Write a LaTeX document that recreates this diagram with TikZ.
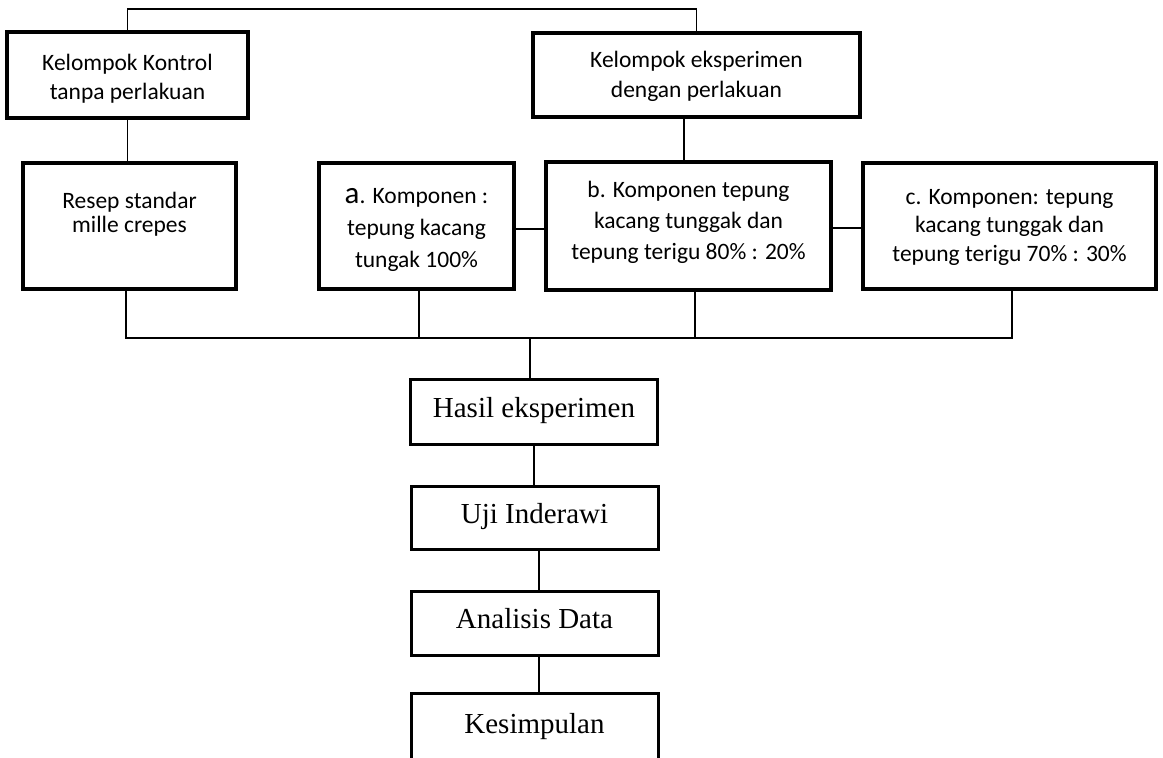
\documentclass[tikz,border=0pt]{standalone}
\usepackage{fontspec}
\setmainfont{Liberation Serif}
\newfontfamily\calib{Carlito}
\tikzset{
  boxtop/.style={draw, line width=3.2pt, inner sep=0pt, outer sep=0pt, align=center,
    font=\calib\fontsize{23.5}{29}\selectfont},
  boxlow/.style={draw, line width=3pt, inner sep=0pt, outer sep=0pt,
    font=\fontsize{29}{34}\selectfont, minimum width=247pt},
  conn/.style={line width=1.4pt}
}
\begin{document}
\begin{tikzpicture}[x=1pt,y=-1pt]
\fill[white] (0,0) rectangle (1163,758);
\useasboundingbox (0,0) rectangle (1163,758);
% top row
\node[boxtop, minimum width=241pt, minimum height=86pt, text height=20pt, text depth=30pt] (K) at (127.5,75)
  {\fontsize{23.5}{29}\selectfont\begin{tabular}[t]{@{}c@{}}Kelompok Kontrol\\tanpa perlakuan\end{tabular}};
\node[boxtop, minimum width=327pt, minimum height=84pt, text height=20pt, text depth=36pt] (E) at (696.5,75)
  {\fontsize{23.5}{30}\selectfont\begin{tabular}[t]{@{}c@{}}Kelompok eksperimen\\dengan perlakuan\end{tabular}};
% middle row
\node[boxtop, minimum width=213pt, minimum height=126pt, text height=20pt, text depth=56pt] (R) at (129.5,226)
  {\fontsize{23.5}{24}\selectfont\begin{tabular}[t]{@{}c@{}}Resep standar\\mille crepes\end{tabular}};
\node[boxtop, minimum width=195pt, minimum height=126pt, text height=20pt, text depth=66pt] (A) at (416.5,226)
  {\fontsize{23.5}{32}\selectfont\begin{tabular}[t]{@{}c@{}}{\fontsize{31}{32}\selectfont a}. Komponen :\\tepung kacang\\tungak 100\%\end{tabular}};
\node[boxtop, minimum width=285pt, minimum height=128pt, text height=20pt, text depth=78pt] (B) at (688.5,226)
  {\fontsize{23.5}{31}\selectfont\begin{tabular}[t]{@{}c@{}}b. Komponen tepung\\kacang tunggak dan\\tepung terigu 80\% : 20\%\end{tabular}};
\node[boxtop, minimum width=293pt, minimum height=126pt, text height=20pt, text depth=64pt] (C) at (1009.5,226)
  {\fontsize{23.5}{28.5}\selectfont\begin{tabular}[t]{@{}c@{}}c. Komponen: tepung\\kacang tunggak dan\\tepung terigu 70\% : 30\%\end{tabular}};
% bottom column
\node[boxlow, minimum height=65pt, text height=20pt, text depth=9pt] (H) at (534,411.5) {Hasil eksperimen};
\node[boxlow, minimum height=63pt, text height=20pt, text depth=9pt] (U) at (534.5,517.5) {Uji Inderawi};
\node[boxlow, minimum height=64pt, text height=20pt, text depth=10pt] (N) at (534.5,623) {Analisis Data};
\node[boxlow, minimum height=67pt, text height=20pt, text depth=7pt] (S) at (534.5,726.5) {Kesimpulan};
% connectors
\draw[conn] (K.north) -- ++(0,-23) -| (E.north);
\draw[conn] (K.south) -- (K.south |- R.north);
\draw[conn] ([xshift=-12.5pt]E.south) -- ([xshift=-12.5pt]E.south |- B.north);
\draw[conn] ([yshift=-3pt]A.east) -- ([yshift=-3pt]A.east -| B.west);
\draw[conn] ([yshift=-2pt]B.east) -- ([yshift=-2pt]B.east -| C.west);
\coordinate (bus) at (530,338);
\draw[conn] ([xshift=-3.5pt]R.south) -- ([xshift=-3.5pt]R.south |- bus) -- ([xshift=2.5pt]C.south |- bus) -- ([xshift=2.5pt]C.south);
\draw[conn] ([xshift=2.5pt]A.south) -- ([xshift=2.5pt]A.south |- bus);
\draw[conn] ([xshift=6.5pt]B.south) -- ([xshift=6.5pt]B.south |- bus);
\draw[conn] (bus) -- (bus |- H.north);
\draw[conn] (H.south) -- (H.south |- U.north);
\draw[conn] ([xshift=4.5pt]U.south) -- ([xshift=4.5pt]U.south |- N.north);
\draw[conn] ([xshift=4.5pt]N.south) -- ([xshift=4.5pt]N.south |- S.north);
\end{tikzpicture}
\end{document}
